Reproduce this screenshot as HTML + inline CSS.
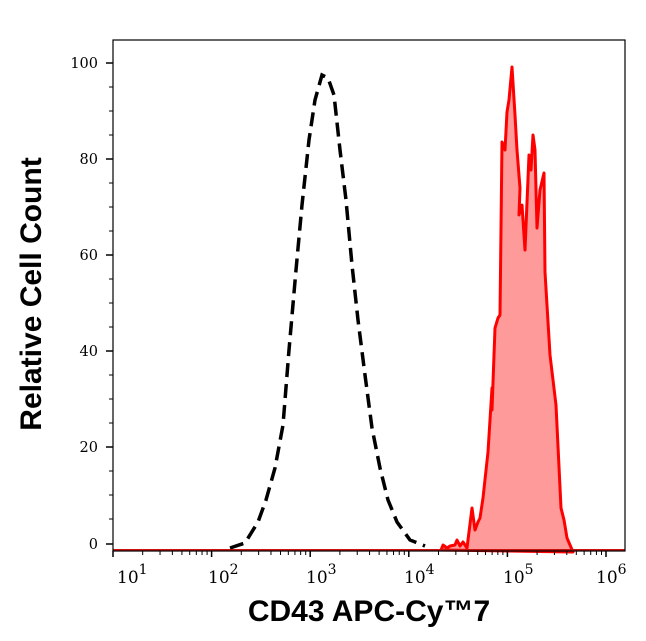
<!DOCTYPE html>
<html><head><meta charset="utf-8"><style>body{margin:0;background:#fff}svg{display:block}</style></head>
<body>
<svg width="646" height="641" xmlns="http://www.w3.org/2000/svg" font-family="DejaVu Serif, serif">
<rect width="646" height="641" fill="#fff"/>
<path d="M441,550 L443,545 L447,548 L450,546 L455,545 L457,540 L460,546 L463,542 L467,548 L472,508 L475,530 L478,522 L480,518 L483,498 L488,452 L492,388 L492,410 L495,328 L498,318 L500,315 L502,142 L505,150 L507,112 L509,100 L512,67 L515,115 L517,150 L520,188 L519,215 L522,205 L525,250 L529,155 L531,170 L533,135 L535,150 L537,228 L540,190 L544,173 L545,272 L550,355 L556,405 L561,508 L564,520 L567,538 L573,552 Z" fill="#ff9a9a" stroke="#ff0000" stroke-width="3" stroke-linejoin="round"/>
<line x1="113" y1="550" x2="625" y2="550" stroke="#cc1111" stroke-width="2"/>
<path d="M230,548 L245,543 L258,522 L266,500 L275,468 L283,425 L289,350 L296,270 L302,205 L309,140 L315,100 L322,75 L328,78 L334,95 L340,150 L346,200 L352,265 L358,320 L365,375 L372,428 L380,468 L388,500 L397,522 L410,540 L425,546" fill="none" stroke="#000" stroke-width="3.5" stroke-dasharray="14,7"/>
<rect x="113" y="40" width="512" height="511" fill="none" stroke="#000" stroke-width="1.2"/>
<g stroke="#000" stroke-width="1.5">
<line x1="106" y1="63" x2="113" y2="63"/><line x1="106" y1="159" x2="113" y2="159"/><line x1="106" y1="255" x2="113" y2="255"/><line x1="106" y1="351" x2="113" y2="351"/><line x1="106" y1="447" x2="113" y2="447"/><line x1="106" y1="544" x2="113" y2="544"/>
</g>
<g stroke="#000" stroke-width="1">
<line x1="109" y1="87" x2="113" y2="87"/><line x1="109" y1="111" x2="113" y2="111"/><line x1="109" y1="135" x2="113" y2="135"/>
<line x1="109" y1="183" x2="113" y2="183"/><line x1="109" y1="207" x2="113" y2="207"/><line x1="109" y1="231" x2="113" y2="231"/>
<line x1="109" y1="279" x2="113" y2="279"/><line x1="109" y1="303" x2="113" y2="303"/><line x1="109" y1="327" x2="113" y2="327"/>
<line x1="109" y1="375" x2="113" y2="375"/><line x1="109" y1="399" x2="113" y2="399"/><line x1="109" y1="423" x2="113" y2="423"/>
<line x1="109" y1="471" x2="113" y2="471"/><line x1="109" y1="495" x2="113" y2="495"/><line x1="109" y1="519" x2="113" y2="519"/>
</g>
<g font-size="14.5" text-anchor="end" fill="#000">
<text x="98" y="68">100</text><text x="98" y="164">80</text><text x="98" y="260">60</text><text x="98" y="356">40</text><text x="98" y="452">20</text><text x="98" y="549">0</text>
</g>
<g stroke="#000" stroke-width="1.5">
<line x1="113" y1="551" x2="113" y2="557"/><line x1="211.6" y1="551" x2="211.6" y2="557"/><line x1="310.2" y1="551" x2="310.2" y2="557"/><line x1="408.8" y1="551" x2="408.8" y2="557"/><line x1="507.4" y1="551" x2="507.4" y2="557"/><line x1="606" y1="551" x2="606" y2="557"/>
</g>
<g stroke="#000" stroke-width="1" id="minor"></g>
<g font-size="17" fill="#000">
<text x="117" y="583">10<tspan font-size="14" dy="-9">1</tspan></text>
<text x="208" y="583">10<tspan font-size="14" dy="-9">2</tspan></text>
<text x="306" y="583">10<tspan font-size="14" dy="-9">3</tspan></text>
<text x="404" y="583">10<tspan font-size="14" dy="-9">4</tspan></text>
<text x="503" y="583">10<tspan font-size="14" dy="-9">5</tspan></text>
<text x="596" y="583">10<tspan font-size="14" dy="-9">6</tspan></text>
</g>
<text x="369" y="621" font-family="Liberation Sans, sans-serif" font-weight="bold" font-size="30" text-anchor="middle">CD43 APC-Cy™7</text>
<text transform="translate(41,294) rotate(-90)" font-family="Liberation Sans, sans-serif" font-weight="bold" font-size="30" text-anchor="middle">Relative Cell Count</text>
</svg>
<script>
(function(){var g=document.getElementById('minor'),ns='http://www.w3.org/2000/svg';
for(var d=1;d<=6;d++){for(var k=2;k<=9;k++){var x=113+(d-1+Math.log10(k))*98.6;if(x>625)continue;
var l=document.createElementNS(ns,'line');l.setAttribute('x1',x);l.setAttribute('x2',x);l.setAttribute('y1',551);l.setAttribute('y2',555);g.appendChild(l);}}
})();
</script>
</body></html>
